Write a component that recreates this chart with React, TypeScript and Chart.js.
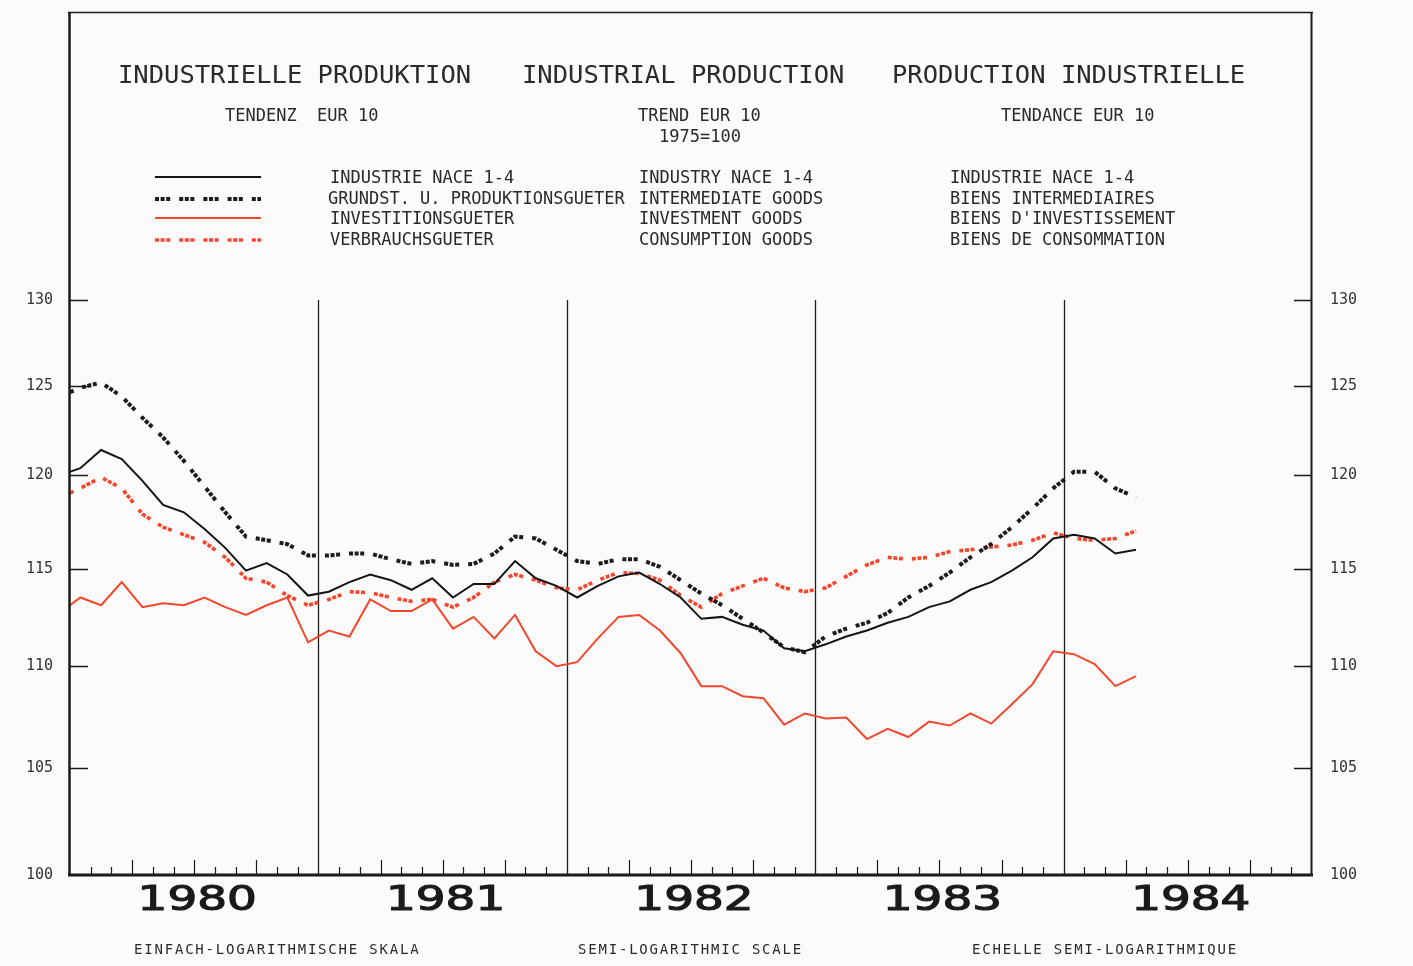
import { useEffect, useRef } from "react";
import { Chart, registerables } from "chart.js";

Chart.register(...registerables);

const MONTHS = [
  "1979-12",
  "1980-01", "1980-02", "1980-03", "1980-04", "1980-05", "1980-06", "1980-07", "1980-08", "1980-09", "1980-10", "1980-11", "1980-12",
  "1981-01", "1981-02", "1981-03", "1981-04", "1981-05", "1981-06", "1981-07", "1981-08", "1981-09", "1981-10", "1981-11", "1981-12",
  "1982-01", "1982-02", "1982-03", "1982-04", "1982-05", "1982-06", "1982-07", "1982-08", "1982-09", "1982-10", "1982-11", "1982-12",
  "1983-01", "1983-02", "1983-03", "1983-04", "1983-05", "1983-06", "1983-07", "1983-08", "1983-09", "1983-10", "1983-11", "1983-12",
  "1984-01", "1984-02", "1984-03", "1984-04",
];

const INDUSTRY = [
  120.0,
  120.4, 121.4, 120.9, 119.7, 118.4, 118.0, 117.1, 116.1, 114.9, 115.3, 114.7, 113.6,
  113.8, 114.3, 114.7, 114.4, 113.9, 114.5, 113.5, 114.2, 114.2, 115.4, 114.5, 114.1,
  113.5, 114.1, 114.6, 114.8, 114.2, 113.5, 112.4, 112.5, 112.1, 111.8, 110.9, 110.75,
  111.1, 111.5, 111.8, 112.2, 112.5, 113.0, 113.3, 113.9, 114.3, 114.9, 115.6, 116.6,
  116.8, 116.6, 115.8, 116.0,
];

const INTERMEDIATE = [
  124.4,
  124.9, 125.2, 124.4, 123.2, 122.1, 120.8, 119.4, 118.0, 116.7, 116.5, 116.3, 115.7,
  115.7, 115.8, 115.8, 115.5, 115.25, 115.4, 115.2, 115.25, 115.8, 116.7, 116.6, 116.0,
  115.4, 115.25, 115.5, 115.5, 115.1, 114.4, 113.7, 113.1, 112.4, 111.7, 110.95, 110.7,
  111.5, 111.9, 112.2, 112.7, 113.5, 114.1, 114.8, 115.6, 116.3, 117.2, 118.2, 119.3,
  120.2, 120.2, 119.3, 118.8,
];

const INVESTMENT = [
  112.7,
  113.5, 113.1, 114.3, 113.0, 113.2, 113.1, 113.5, 113.0, 112.6, 113.1, 113.5, 111.2,
  111.8, 111.5, 113.4, 112.8, 112.8, 113.4, 111.9, 112.5, 111.4, 112.6, 110.75, 110.0,
  110.2, 111.4, 112.5, 112.6, 111.8, 110.65, 109.0, 109.0, 108.5, 108.4, 107.1, 107.65,
  107.4, 107.45, 106.4, 106.9, 106.5, 107.25, 107.06, 107.65, 107.15, 108.1, 109.1, 110.75,
  110.6, 110.1, 109.0, 109.5,
];

const CONSUMPTION = [
  118.8,
  119.3, 119.9, 119.3, 117.9, 117.2, 116.8, 116.4, 115.6, 114.5, 114.3, 113.6, 113.1,
  113.4, 113.8, 113.75, 113.5, 113.3, 113.4, 113.0, 113.5, 114.3, 114.7, 114.4, 114.0,
  113.9, 114.4, 114.8, 114.75, 114.4, 113.6, 113.0, 113.7, 114.1, 114.5, 114.0, 113.8,
  114.0, 114.6, 115.2, 115.6, 115.5, 115.6, 115.9, 116.0, 116.15, 116.25, 116.5, 116.9,
  116.6, 116.5, 116.6, 117.0,
];

const Y_TICKS = [100, 105, 110, 115, 120, 125, 130];
const YEARS = ["1980", "1981", "1982", "1983", "1984"];

const TITLES = ["INDUSTRIELLE PRODUKTION", "INDUSTRIAL PRODUCTION", "PRODUCTION INDUSTRIELLE"];
const SUBTITLES = ["TENDENZ  EUR 10", "TREND EUR 10", "TENDANCE EUR 10"];
const BASE_NOTE = "1975=100";
const LEGEND_DE = ["INDUSTRIE NACE 1-4", "GRUNDST. U. PRODUKTIONSGUETER", "INVESTITIONSGUETER", "VERBRAUCHSGUETER"];
const LEGEND_EN = ["INDUSTRY NACE 1-4", "INTERMEDIATE GOODS", "INVESTMENT GOODS", "CONSUMPTION GOODS"];
const LEGEND_FR = ["INDUSTRIE NACE 1-4", "BIENS INTERMEDIAIRES", "BIENS D'INVESTISSEMENT", "BIENS DE CONSOMMATION"];
const SCALE_NOTES = ["EINFACH-LOGARITHMISCHE SKALA", "SEMI-LOGARITHMIC SCALE", "ECHELLE SEMI-LOGARITHMIQUE"];

const MONO = '"DejaVu Sans Mono", "Liberation Mono", monospace';
const TEXT = "#2a2a2a";

function monthPos(label: string): number {
  const [y, m] = label.split("-").map(Number);
  return (y - 1980) * 12 + (m - 1) + 0.5;
}

function series(vals: number[]) {
  return MONTHS.map((m, i) => ({ x: monthPos(m), y: vals[i] }));
}

const DASH_GROUP = [4, 1.6, 4, 1.6, 4, 9];

const decor = {
  id: "decor",
  beforeDraw(chart: any) {
    const ctx = chart.ctx;
    ctx.save();
    ctx.fillStyle = "#fbfbfb";
    ctx.fillRect(0, 0, chart.width, chart.height);
    ctx.restore();
  },
  beforeDatasetsDraw(chart: any) {
    const ctx = chart.ctx;
    const x = chart.scales.x;
    const y = chart.scales.y;
    const { bottom } = chart.chartArea;
    ctx.save();
    ctx.strokeStyle = "#1e1e1e";
    ctx.lineWidth = 1.3;
    for (const m of [12, 24, 36, 48]) {
      const px = Math.round(x.getPixelForValue(m)) + 0.5;
      ctx.beginPath();
      ctx.moveTo(px, y.getPixelForValue(130));
      ctx.lineTo(px, bottom);
      ctx.stroke();
    }
    ctx.restore();
  },
  afterDraw(chart: any) {
    const ctx = chart.ctx;
    const x = chart.scales.x;
    const y = chart.scales.y;
    const { left, right, top, bottom } = chart.chartArea;
    ctx.save();

    // frame
    ctx.strokeStyle = "#1a1a1a";
    ctx.lineWidth = 1.5;
    ctx.beginPath();
    ctx.moveTo(left - 2, top + 0.5);
    ctx.lineTo(right + 1, top + 0.5);
    ctx.stroke();
    ctx.lineWidth = 2.5;
    ctx.beginPath();
    ctx.moveTo(left - 0.5, top);
    ctx.lineTo(left - 0.5, bottom + 1);
    ctx.stroke();
    ctx.lineWidth = 2;
    ctx.beginPath();
    ctx.moveTo(right - 0.5, top);
    ctx.lineTo(right - 0.5, bottom + 1);
    ctx.stroke();
    ctx.lineWidth = 3;
    ctx.beginPath();
    ctx.moveTo(left - 2, bottom);
    ctx.lineTo(right + 1, bottom);
    ctx.stroke();

    // inward y ticks
    ctx.lineWidth = 1.3;
    for (const v of Y_TICKS) {
      if (v === 100) continue;
      const py = Math.round(y.getPixelForValue(v)) + 0.5;
      ctx.beginPath();
      ctx.moveTo(left, py);
      ctx.lineTo(left + 18, py);
      ctx.moveTo(right - 18, py);
      ctx.lineTo(right, py);
      ctx.stroke();
    }

    // month ticks
    ctx.lineWidth = 1.2;
    for (let m = 1; m < 60; m++) {
      if (m % 12 === 0) continue;
      const px = Math.round(x.getPixelForValue(m)) + 0.5;
      const h = m % 3 === 0 ? 15 : 8;
      ctx.beginPath();
      ctx.moveTo(px, bottom);
      ctx.lineTo(px, bottom - h);
      ctx.stroke();
    }

    // year labels (stretched plotter digits)
    ctx.fillStyle = "#1a1a1a";
    ctx.strokeStyle = "#1a1a1a";
    ctx.lineWidth = 1.1;
    ctx.font = '33px "DejaVu Sans", sans-serif';
    ctx.textAlign = "center";
    ctx.textBaseline = "middle";
    YEARS.forEach((yr, k) => {
      const cx = x.getPixelForValue(k * 12 + 6) + 3;
      ctx.save();
      ctx.translate(cx, 901);
      ctx.scale(1.42, 1);
      ctx.fillText(yr, 0, 0);
      ctx.strokeText(yr, 0, 0);
      ctx.restore();
    });

    // titles
    ctx.fillStyle = TEXT;
    ctx.textAlign = "left";
    ctx.textBaseline = "middle";
    ctx.font = `25.5px ${MONO}`;
    [118, 522, 892].forEach((tx, i) => ctx.fillText(TITLES[i], tx, 76));

    ctx.font = `17px ${MONO}`;
    [225, 638, 1001].forEach((tx, i) => ctx.fillText(SUBTITLES[i], tx, 117));
    ctx.fillText(BASE_NOTE, 659, 138);

    // legend
    const rowsY = [179, 200, 220, 241];
    rowsY.forEach((ry, i) => {
      ctx.fillText(LEGEND_DE[i], i === 1 ? 328 : 330, ry);
      ctx.fillText(LEGEND_EN[i], 639, ry);
      ctx.fillText(LEGEND_FR[i], 950, ry);
    });
    const sampleY = [177, 199, 218, 240];
    chart.data.datasets.forEach((ds: any, i: number) => {
      ctx.save();
      ctx.strokeStyle = ds.borderColor;
      ctx.lineWidth = ds.borderWidth;
      ctx.lineCap = "butt";
      ctx.setLineDash(ds.borderDash || []);
      ctx.beginPath();
      ctx.moveTo(155, sampleY[i]);
      ctx.lineTo(261, sampleY[i]);
      ctx.stroke();
      ctx.restore();
    });

    // bottom notes
    ctx.font = `14px ${MONO}`;
    (ctx as any).letterSpacing = "1.8px";
    [134, 578, 972].forEach((tx, i) => ctx.fillText(SCALE_NOTES[i], tx, 950));
    (ctx as any).letterSpacing = "0px";

    ctx.restore();
  },
};

export default function App() {
  const ref = useRef<HTMLCanvasElement>(null);

  useEffect(() => {
    if (!ref.current) return;
    const yAxisCommon = {
      type: "logarithmic" as const,
      min: 100,
      max: 148.26,
      bounds: "data" as const,
      grid: { display: false, drawTicks: false },
      border: { display: false },
      afterBuildTicks: (s: any) => {
        s.ticks = Y_TICKS.map((v) => ({ value: v }));
      },
      ticks: {
        autoSkip: false,
        color: "#333",
        font: { family: MONO, size: 15 },
        callback: (v: any) => String(v),
      },
    };
    const chart = new Chart(ref.current, {
      type: "line",
      data: {
        datasets: [
          {
            label: "INDUSTRY NACE 1-4",
            data: series(INDUSTRY),
            borderColor: "#151515",
            borderWidth: 2,
            pointRadius: 0,
            tension: 0,
            clip: 0,
          },
          {
            label: "INTERMEDIATE GOODS",
            data: series(INTERMEDIATE),
            borderColor: "#1c1c1c",
            borderWidth: 4,
            borderDash: DASH_GROUP,
            borderCapStyle: "butt",
            pointRadius: 0,
            tension: 0,
            clip: 0,
          },
          {
            label: "INVESTMENT GOODS",
            data: series(INVESTMENT),
            borderColor: "#f2472c",
            borderWidth: 2,
            pointRadius: 0,
            tension: 0,
            clip: 0,
          },
          {
            label: "CONSUMPTION GOODS",
            data: series(CONSUMPTION),
            borderColor: "#f9432b",
            borderWidth: 3.6,
            borderDash: DASH_GROUP,
            borderCapStyle: "butt",
            pointRadius: 0,
            tension: 0,
            clip: 0,
          },
        ],
      },
      options: {
        responsive: false,
        animation: false,
        devicePixelRatio: 1,
        layout: { padding: { top: 12, bottom: 91, left: 0, right: 0 } },
        plugins: { legend: { display: false }, tooltip: { enabled: false } },
        scales: {
          x: { type: "linear", min: 0, max: 60, display: false },
          y: {
            ...yAxisCommon,
            position: "left",
            ticks: { ...yAxisCommon.ticks, padding: 17 },
            afterFit: (s: any) => {
              s.width = 70;
              s.paddingTop = 0;
              s.paddingBottom = 0;
            },
          },
          y2: {
            ...yAxisCommon,
            position: "right",
            ticks: { ...yAxisCommon.ticks, padding: 18 },
            afterFit: (s: any) => {
              s.width = 101;
              s.paddingTop = 0;
              s.paddingBottom = 0;
            },
          },
        },
      } as any,
      plugins: [decor],
    });
    return () => chart.destroy();
  }, []);

  return (
    <div style={{ position: "fixed", left: 0, top: 0, width: 1413, height: 966, overflow: "hidden", background: "#fbfbfb" }}>
      <canvas ref={ref} width={1413} height={966} style={{ display: "block", width: 1413, height: 966 }} />
    </div>
  );
}
